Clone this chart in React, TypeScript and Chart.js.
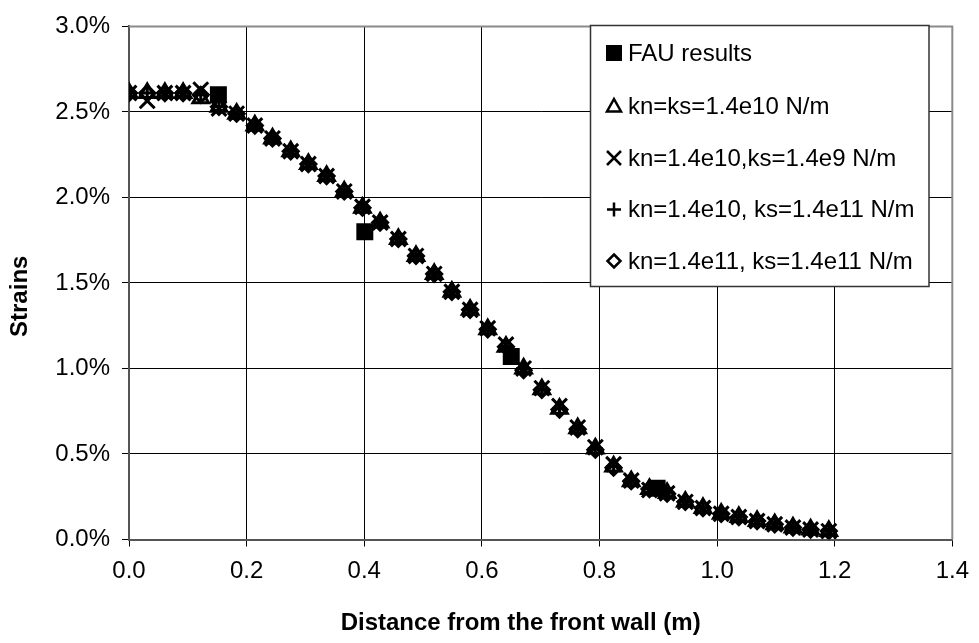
import React, { useEffect, useRef } from "react";
import { Chart, registerables } from "chart.js";

Chart.register(...registerables);

// Distance from the front wall (m)
const distances = [
  0, 0.031, 0.061, 0.092, 0.122, 0.153, 0.183, 0.214, 0.244, 0.275, 0.305, 0.336, 0.366, 0.397,
  0.427, 0.458, 0.488, 0.519, 0.549, 0.58, 0.61, 0.641, 0.671, 0.702, 0.732, 0.763, 0.793, 0.824,
  0.854, 0.885, 0.915, 0.946, 0.976, 1.007, 1.037, 1.068, 1.098, 1.129, 1.159, 1.19,
];

// Strains (%) for each series
const strainsKnKs14e10 = [
  2.61, 2.61, 2.61, 2.61, 2.58, 2.53, 2.49, 2.42, 2.345, 2.27, 2.195, 2.125, 2.035, 1.94,
  1.853, 1.757, 1.658, 1.553, 1.448, 1.343, 1.229, 1.127, 1.0, 0.879, 0.765, 0.65, 0.532, 0.427,
  0.341, 0.295, 0.272, 0.22, 0.184, 0.15, 0.131, 0.108, 0.089, 0.07, 0.058, 0.049,
];
const strainsKn14e10Ks14e9 = [
  2.61, 2.565, 2.61, 2.61, 2.63, 2.52, 2.49, 2.42, 2.345, 2.27, 2.195, 2.125, 2.035, 1.945,
  1.853, 1.757, 1.658, 1.553, 1.448, 1.343, 1.235, 1.14, 1.0, 0.885, 0.78, 0.655, 0.54, 0.44,
  0.345, 0.29, 0.27, 0.22, 0.184, 0.15, 0.131, 0.108, 0.089, 0.07, 0.058, 0.049,
];
const strainsKn14e10Ks14e11 = [
  2.61, 2.61, 2.61, 2.61, 2.6, 2.53, 2.49, 2.42, 2.345, 2.27, 2.195, 2.125, 2.035, 1.94,
  1.853, 1.757, 1.658, 1.553, 1.448, 1.343, 1.229, 1.127, 1.0, 0.879, 0.765, 0.65, 0.532, 0.427,
  0.341, 0.295, 0.272, 0.22, 0.184, 0.15, 0.131, 0.108, 0.089, 0.07, 0.058, 0.049,
];
const strainsKn14e11Ks14e11 = [
  2.61, 2.61, 2.61, 2.61, 2.6, 2.53, 2.49, 2.42, 2.345, 2.27, 2.195, 2.125, 2.035, 1.94,
  1.853, 1.757, 1.658, 1.553, 1.448, 1.343, 1.229, 1.127, 0.99, 0.875, 0.76, 0.645, 0.525, 0.42,
  0.341, 0.295, 0.268, 0.22, 0.184, 0.15, 0.131, 0.108, 0.089, 0.07, 0.058, 0.049,
];

// FAU results
const fauDistances = [0.152, 0.401, 0.65, 0.898];
const fauStrains = [2.6, 1.8, 1.07, 0.3];

const seriesLabels = [
  "FAU results",
  "kn=ks=1.4e10 N/m",
  "kn=1.4e10,ks=1.4e9 N/m",
  "kn=1.4e10, ks=1.4e11 N/m",
  "kn=1.4e11, ks=1.4e11 N/m",
];

const xTickValues = [0, 0.2, 0.4, 0.6, 0.8, 1.0, 1.2, 1.4];
const yTickValues = [0, 0.5, 1.0, 1.5, 2.0, 2.5, 3.0];

const FONT = '"Liberation Sans", Arial, sans-serif';

const toPoints = (xs: number[], ys: number[]) => xs.map((x, i) => ({ x, y: ys[i] }));

function drawLegendMarker(ctx: CanvasRenderingContext2D, style: string, x: number, y: number) {
  ctx.save();
  ctx.strokeStyle = "#000";
  ctx.fillStyle = "#000";
  ctx.lineWidth = 2.5;
  ctx.beginPath();
  if (style === "rect") {
    ctx.fillRect(x - 8, y - 8, 16, 16);
  } else if (style === "triangle") {
    ctx.moveTo(x, y - 7);
    ctx.lineTo(x + 7, y + 5.5);
    ctx.lineTo(x - 7, y + 5.5);
    ctx.closePath();
    ctx.stroke();
  } else if (style === "crossRot") {
    ctx.moveTo(x - 7, y - 7);
    ctx.lineTo(x + 7, y + 7);
    ctx.moveTo(x + 7, y - 7);
    ctx.lineTo(x - 7, y + 7);
    ctx.stroke();
  } else if (style === "cross") {
    ctx.moveTo(x - 7, y);
    ctx.lineTo(x + 7, y);
    ctx.moveTo(x, y - 7);
    ctx.lineTo(x, y + 7);
    ctx.stroke();
  } else if (style === "rectRot") {
    ctx.moveTo(x, y - 6.5);
    ctx.lineTo(x + 6.5, y);
    ctx.lineTo(x, y + 6.5);
    ctx.lineTo(x - 6.5, y);
    ctx.closePath();
    ctx.stroke();
  }
  ctx.restore();
}

const insideLegend = {
  id: "insideLegend",
  afterDraw(chart: any) {
    const ctx: CanvasRenderingContext2D = chart.ctx;
    const { left, top, right, bottom } = chart.chartArea;
    // plot area frame (top & right)
    ctx.save();
    ctx.strokeStyle = "#8a8a8a";
    ctx.lineWidth = 2;
    ctx.beginPath();
    ctx.moveTo(left, top);
    ctx.lineTo(right, top);
    ctx.lineTo(right, bottom);
    ctx.stroke();
    ctx.restore();

    const bx = 590.5;
    const by = 25.5;
    const bw = 338.5;
    const bh = 261;
    ctx.save();
    ctx.fillStyle = "#fff";
    ctx.fillRect(bx, by, bw, bh);
    ctx.strokeStyle = "#333";
    ctx.lineWidth = 1.5;
    ctx.strokeRect(bx, by, bw, bh);
    const rows = [53, 106, 158, 209.5, 261];
    ctx.font = `24px ${FONT}`;
    ctx.textBaseline = "middle";
    ctx.textAlign = "left";
    ctx.fillStyle = "#000";
    chart.data.datasets.forEach((ds: any, i: number) => {
      drawLegendMarker(ctx, ds.pointStyle, 614, rows[i]);
      ctx.fillText(ds.label, 628, rows[i] + 1);
    });
    ctx.restore();
  },
};

export default function App() {
  const canvasRef = useRef<HTMLCanvasElement | null>(null);

  useEffect(() => {
    if (!canvasRef.current) return;
    const common = {
      showLine: false,
      backgroundColor: "rgba(0,0,0,0)",
      borderColor: "#000",
      borderWidth: 3,
    };
    const chart = new Chart(canvasRef.current, {
      type: "scatter",
      data: {
        datasets: [
          {
            label: seriesLabels[0],
            data: toPoints(fauDistances, fauStrains),
            pointStyle: "rect",
            pointRadius: 12,
            backgroundColor: "#000",
            borderColor: "#000",
            borderWidth: 0,
            showLine: false,
          },
          { ...common, label: seriesLabels[1], data: toPoints(distances, strainsKnKs14e10), pointStyle: "triangle", pointRadius: 9 },
          { ...common, label: seriesLabels[2], data: toPoints(distances, strainsKn14e10Ks14e9), pointStyle: "crossRot", pointRadius: 10.5 },
          { ...common, label: seriesLabels[3], data: toPoints(distances, strainsKn14e10Ks14e11), pointStyle: "cross", pointRadius: 7.5 },
          { ...common, label: seriesLabels[4], data: toPoints(distances, strainsKn14e11Ks14e11), pointStyle: "rectRot", pointRadius: 7.5 },
        ],
      } as any,
      options: {
        responsive: false,
        animation: false,
        layout: { padding: { top: 16.5, right: 22.5, left: 0, bottom: 0 } },
        plugins: {
          legend: { display: false },
          tooltip: { enabled: false },
        },
        scales: {
          x: {
            type: "linear",
            min: 0,
            max: 1.4,
            afterFit: (scale: any) => {
              scale.height = 643 - 539.5;
            },
            afterBuildTicks: (scale: any) => {
              scale.ticks = xTickValues.map((v) => ({ value: v }));
            },
            ticks: {
              color: "#000",
              font: { family: FONT, size: 24 },
              padding: 10,
              callback: (v: any) => Number(v).toFixed(1),
            },
            grid: { color: "#000", lineWidth: 1, tickLength: 7, tickColor: "#000" },
            border: { color: "#555", width: 2 },
            title: {
              display: true,
              text: "Distance from the front wall (m)      ",
              color: "#000",
              font: { family: FONT, size: 24, weight: "bold" },
              padding: { top: 0, bottom: 5.6 },
            },
          },
          y: {
            type: "linear",
            min: 0,
            max: 3,
            afterFit: (scale: any) => {
              scale.width = 129;
            },
            afterBuildTicks: (scale: any) => {
              scale.ticks = yTickValues.map((v) => ({ value: v }));
            },
            ticks: {
              color: "#000",
              font: { family: FONT, size: 24 },
              padding: 12,
              callback: (v: any) => Number(v).toFixed(1) + "%",
            },
            grid: { color: "#000", lineWidth: 1, tickLength: 7, tickColor: "#000" },
            border: { color: "#555", width: 2 },
            title: {
              display: true,
              text: "Strains    ",
              color: "#000",
              font: { family: FONT, size: 24, weight: "bold" },
              padding: { top: 5.6, bottom: 0 },
            },
          },
        },
      } as any,
      plugins: [insideLegend],
    });
    return () => chart.destroy();
  }, []);

  return (
    <div style={{ position: "absolute", left: 0, top: 0, width: 979, height: 643, background: "#fff" }}>
      <canvas ref={canvasRef} width={979} height={643} style={{ display: "block" }} />
    </div>
  );
}
